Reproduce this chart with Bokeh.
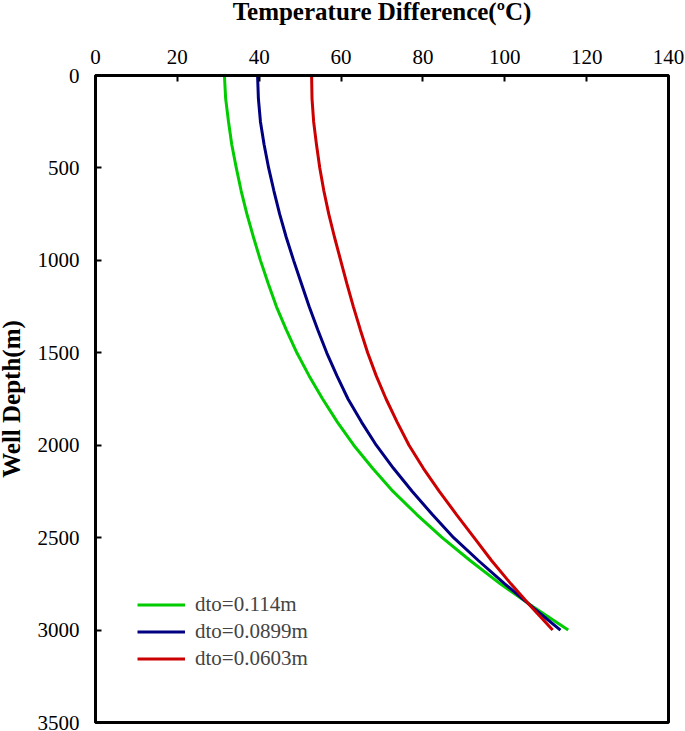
from bokeh.plotting import figure
from bokeh.models import Range1d, Legend, LegendItem, FixedTicker
from bokeh.embed import file_html
from bokeh.resources import INLINE

depth = [0, 125, 250, 375, 500, 625, 750, 875, 1000, 1125, 1250, 1375, 1500,
         1625, 1750, 1875, 2000, 2125, 2250, 2375, 2500, 2625, 2750, 2875, 3000]
t_green = [31.5, 31.8, 32.5, 33.3, 34.4, 35.6, 37.0, 38.6, 40.3, 42.2, 44.2, 46.6, 49.2,
           52.2, 55.5, 59.1, 63.1, 67.7, 72.7, 78.5, 84.7, 91.6, 98.9, 107.0, 115.5]
t_blue = [39.6, 39.8, 40.3, 41.2, 42.3, 43.6, 45.0, 46.6, 48.4, 50.3, 52.2, 54.3, 56.5,
          59.0, 61.7, 65.0, 68.6, 72.8, 77.4, 82.3, 87.5, 93.6, 100.0, 106.7, 113.6]
t_red = [52.8, 52.9, 53.3, 54.0, 54.8, 55.8, 57.0, 58.4, 59.9, 61.4, 63.0, 64.7, 66.5,
         68.6, 71.0, 73.7, 76.6, 80.1, 84.0, 88.2, 92.5, 96.8, 101.5, 106.5, 111.7]
labels = ["dto=0.114m", "dto=0.0899m", "dto=0.0603m"]
colors = ["#00CC00", "#000080", "#CC0000"]
x_ticks = [0, 20, 40, 60, 80, 100, 120, 140]
y_ticks = [0, 500, 1000, 1500, 2000, 2500, 3000, 3500]
x_title = "Temperature Difference(\u00baC)"
y_title = "Well Depth(m)"

FONT = "Liberation Serif"

p = figure(width=691, height=739, output_backend="svg", toolbar_location=None,
           x_range=Range1d(0, 140), y_range=Range1d(3500, 0),
           x_axis_location="above", y_axis_location="left",
           min_border_left=101, min_border_right=17, min_border_top=83, min_border_bottom=9)
# the reference's axis titles sit right at the page edges: shift the canvas a little
p.styles = {"margin-top": "-8px", "margin-left": "-6px"}
p.grid.visible = False
p.outline_line_color = "black"
p.outline_line_width = 3
p.background_fill_color = "white"
p.border_fill_color = "white"

xa = p.xaxis[0]
xa.ticker = FixedTicker(ticks=x_ticks)
xa.axis_label = x_title
ya = p.yaxis[0]
ya.ticker = FixedTicker(ticks=y_ticks)
ya.axis_label = y_title
for ax in (xa, ya):
    ax.axis_line_color = "black"
    ax.axis_line_width = 3
    ax.major_tick_in = 6
    ax.major_tick_out = 0
    ax.major_tick_line_width = 2
    ax.minor_tick_line_color = None
    ax.major_label_text_font = FONT
    ax.major_label_text_font_size = "21px"
    ax.major_label_text_color = "black"
    ax.axis_label_text_font = FONT
    ax.axis_label_text_font_size = "25px"
    ax.axis_label_text_font_style = "bold"
    ax.axis_label_text_color = "black"
xa.major_label_standoff = 12
xa.axis_label_standoff = 22
ya.major_label_standoff = 16
ya.axis_label_standoff = 10

renderers = []
for t, c in zip([t_green, t_blue, t_red], colors):
    r = p.line(t, depth, line_color=c, line_width=3)
    renderers.append(r)

legend = Legend(items=[LegendItem(label=l, renderers=[r]) for l, r in zip(labels, renderers)],
                location=(42, 51), padding=0, margin=0, spacing=2,
                glyph_width=48, glyph_height=25, label_height=25, label_standoff=10,
                label_text_font=FONT, label_text_font_size="21px",
                border_line_color=None, background_fill_alpha=0)
p.add_layout(legend, "center")

open("out.html", "w").write(file_html(p, INLINE))
